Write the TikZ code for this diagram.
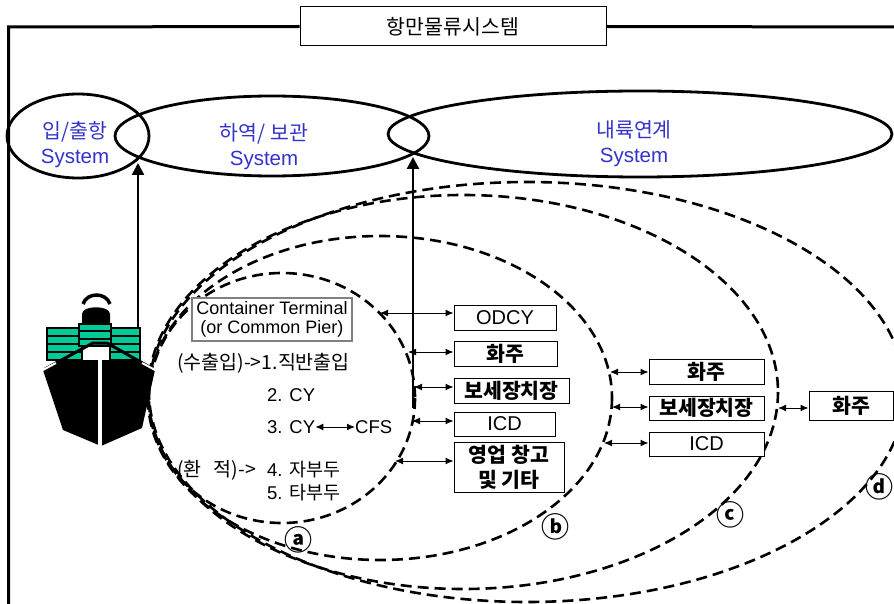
\documentclass[tikz,border=0pt]{standalone}
\usepackage{fontspec}
\setmainfont{Liberation Sans}
\newfontfamily\kr{Noto Sans CJK KR}
\usetikzlibrary{arrows.meta}
\definecolor{sysblue}{RGB}{51,51,204}
\definecolor{cargo}{RGB}{0,204,153}
\newcommand{\hg}[1]{{\kr #1}}

\begin{document}
\begin{tikzpicture}[x=1pt,y=-1pt,
  frame/.style={line width=3pt},
  sysell/.style={line width=2.8pt},
  zone/.style={line width=2.6pt, dash pattern=on 11pt off 6pt},
  sysname/.style={text=sysblue, align=center, inner sep=0pt,
    font=\fontsize{20.5}{25}\selectfont},
  boxnode/.style={draw, fill=white, line width=1pt, inner sep=0pt,
    font=\fontsize{20}{24}\selectfont},
  krbox/.style={boxnode, font=\kr\bfseries\fontsize{20.5}{25}\selectfont},
  link/.style={{Latex[length=8pt,width=7pt]}-{Latex[length=8pt,width=7pt]}, line width=1pt},
  lift/.style={-{Triangle[length=12pt,width=12pt]}, line width=2.5pt},
  item/.style={anchor=west, inner sep=0pt, font=\fontsize{18.5}{20}\selectfont},
  kritem/.style={item, font=\kr\fontsize{19.5}{20}\selectfont},
  zlabel/.style={inner sep=0pt, font=\kr\bfseries\fontsize{28}{28}\selectfont}]

\useasboundingbox (0,0) rectangle (894,604);

% title and outer frame
\node[draw, line width=1pt, minimum width=306pt, minimum height=39pt, inner sep=0pt,
  font=\kr\fontsize{20.5}{22}\selectfont] (title) at (453,26.5) {항만물류시스템};
\draw[frame] (8.5,604) -- (8.5,27) -- (title.west);
\draw[frame] (title.east) -- (894,27);

% the three subsystems
\draw[sysell] (78,136) ellipse [x radius=71, y radius=42];
\draw[sysell] (272,136) ellipse [x radius=157, y radius=40];
\draw[sysell] (640,134) ellipse [x radius=252, y radius=43];
\node[sysname] (s1) at (75,145) {\hg{입/출항}\\System};
\node[sysname] (s2) at (264,147) {\hg{하역/ 보관}\\System};
\node[sysname] (s3) at (634,144) {\hg{내륙연계}\\System};

% service zones a-d
\draw[zone] (527,392) ellipse [x radius=378, y radius=210];
\draw[zone] (463,392) ellipse [x radius=315, y radius=197];
\draw[zone] (380,398) ellipse [x radius=232, y radius=162];
\draw[zone] (282,398) ellipse [x radius=133, y radius=125];

% ship
\fill (82,330) -- (82,314) .. controls (82,305) and (110,305) .. (110,314) -- (110,330) -- cycle;
\draw[line width=3.5pt] (83,304) .. controls (87,292) and (106,292) .. (110,304);
\foreach \xa/\xb in {47/82,110/140} {
  \draw[fill=cargo, line width=1.5pt] (\xa,328) rectangle (\xb,360);
  \foreach \yy in {336,344,352} \draw[line width=2pt] (\xa,\yy) -- (\xb,\yy);
}
\draw[fill=cargo, line width=1.5pt] (79,324) rectangle (111,346);
\foreach \yy in {331,339} \draw[line width=2pt] (79,\yy) -- (111,\yy);
\fill (43,370) -- (58,360) -- (140,360) -- (155,370) -- (142,428) -- (101,446) -- (63,430) -- cycle;
\draw[line width=3pt] (45,369) -- (93,343) -- (107,343) -- (153,369);
\draw[white, line width=3.5pt] (100,350) -- (100,448);
\draw[white, line width=2pt] (41,371) -- (56,363);
\draw[white, line width=2pt] (142,363) -- (157,371);

% vertical links to the subsystems
\coordinate (shiptop) at (138,327);
\coordinate (meet12) at (138,163);
\coordinate (termtop) at (413,408);
\coordinate (meet23) at (413,157);
\draw[lift] (shiptop) -- (meet12);
\draw[lift] (termtop) -- (meet23);

% terminal contents
\node[draw=gray, fill=white, line width=1.5pt, minimum width=160pt, minimum height=43pt,
  inner sep=0pt, align=center, font=\fontsize{18}{18.5}\selectfont] (ct) at (272,319.5)
  {Container Terminal\\(or Common Pier)};
\node[kritem] (t1) at (177,363) {(수출입)->1.직반출입};
\node[item] (t2) at (267,395) {2. CY};
\node[item] (t3) at (267,427) {3. CY};
\node[item] (cfs) at (355,427) {CFS};
\node[kritem] (t4a) at (177,470) {(환\hspace{12pt}적)->};
\node[item] (t4) at (267,470) {4. \hg{자부두}};
\node[item] (t5) at (267,493) {5. \hg{타부두}};
\draw[link] (t3.east) -- (cfs.west);

% zone b facilities
\node[boxnode, minimum width=102pt, minimum height=25pt] (odcy) at (505,317.5) {ODCY};
\node[krbox, minimum width=103pt, minimum height=25pt] (hz1) at (505.5,353.5) {화주};
\node[krbox, minimum width=115pt, minimum height=25pt] (bs1) at (511.5,390.5) {보세장치장};
\node[boxnode, minimum width=101pt, minimum height=24pt] (icd1) at (504.5,424) {ICD};
\node[krbox, minimum width=110pt, minimum height=50pt, align=center] (ware) at (509,467) {영업 창고\\및 기타};

% zone c facilities
\node[krbox, minimum width=115pt, minimum height=25pt] (hz2) at (706.5,371.5) {화주};
\node[krbox, minimum width=115pt, minimum height=24pt] (bs2) at (706.5,408) {보세장치장};
\node[boxnode, minimum width=115pt, minimum height=24pt] (icd2) at (706.5,444) {ICD};

% zone d facility
\node[krbox, minimum width=84pt, minimum height=29pt] (hz3) at (851,405.5) {화주};

% links from zone boundaries
\coordinate (a1) at (380,313);
\coordinate (a2) at (408,352);
\coordinate (a3) at (414,387);
\coordinate (a4) at (412,421);
\coordinate (a5) at (395,461);
\coordinate (b1) at (610,372);
\coordinate (b2) at (612,407);
\coordinate (b3) at (604,443);
\coordinate (c1) at (778,408);
\draw[link] (a1) -- (a1 -| odcy.west);
\draw[link] (a2) -- (a2 -| hz1.west);
\draw[link] (a3) -- (a3 -| bs1.west);
\draw[link] (a4) -- (a4 -| icd1.west);
\draw[link] (a5) -- (a5 -| ware.west);
\draw[link] (b1) -- (b1 -| hz2.west);
\draw[link] (b2) -- (b2 -| bs2.west);
\draw[link] (b3) -- (b3 -| icd2.west);
\draw[link] (c1) -- (c1 -| hz3.west);

% zone labels
\node[zlabel] (la) at (298,540) {ⓐ};
\node[zlabel] (lb) at (555,527) {ⓑ};
\node[zlabel] (lc) at (730,515) {ⓒ};
\node[zlabel] (ld) at (879,487) {ⓓ};
\end{tikzpicture}
\end{document}
